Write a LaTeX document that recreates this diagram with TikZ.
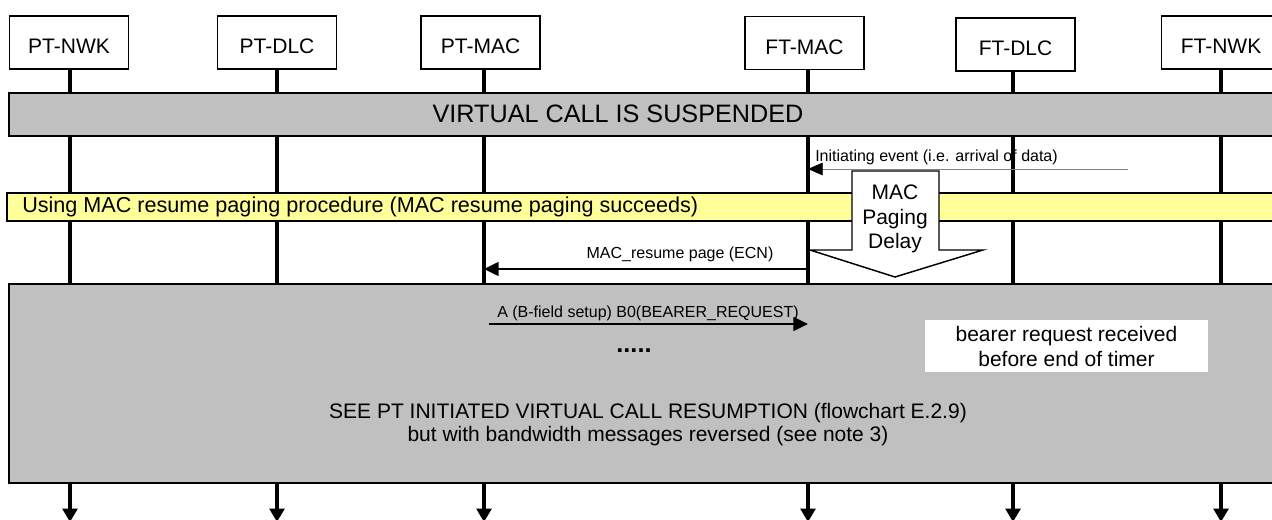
\documentclass[tikz,border=0pt]{standalone}
\usepackage{fontspec}
\setmainfont{Liberation Sans}
\usetikzlibrary{arrows.meta}
\definecolor{bandgrey}{HTML}{C0C0C0}
\definecolor{bandyellow}{HTML}{FFFF99}
\newcommand{\bigfnt}{\fontsize{15.75}{18.5}\selectfont}
\newcommand{\smallfnt}{\fontsize{12}{14}\selectfont}
\begin{document}
\begin{tikzpicture}[x=0.75pt,y=-0.75pt,
  entity/.style={draw,line width=1.1pt,fill=white,minimum width=89pt,minimum height=40pt,
    inner sep=0pt,font=\bigfnt,text height=21pt,text depth=3.8pt},
  life/.style={line width=3pt,-{Triangle[length=10pt,width=11pt]}},
  band/.style={draw,line width=1.1pt,fill=bandgrey},
  yband/.style={draw,line width=0.9pt,fill=bandyellow},
  msg/.style={line width=1.1pt,-{Triangle[length=11pt,width=10.5pt]}},
  thinmsg/.style={line width=0.6pt,draw=gray,-{Triangle[length=11pt,width=9.5pt,color=black]}},
  lbl/.style={font=\smallfnt,inner sep=0pt},
  bigtxt/.style={font=\bigfnt,inner sep=0pt,align=center}]
\useasboundingbox (0,0) rectangle (1272,520);

% entities
\node[entity] (b1) at (69,42.5) {PT-NWK};
\node[entity] (b2) at (277,42.5) {PT-DLC};
\node[entity] (b3) at (480.5,42.5) {PT-MAC};
\node[entity] (b4) at (804.5,43) {FT-MAC};
\node[entity] (b5) at (1015.5,44.5) {FT-DLC};
\node[entity] (b6) at (1221,42.5) {FT-NWK};

% lifeline ends
\coordinate (e1) at (70,522);
\coordinate (e2) at (277,522);
\coordinate (e3) at (484,522);
\coordinate (e4) at (808,522);
\coordinate (e5) at (1013,522);
\coordinate (e6) at (1221,522);

\draw[life] (b1.south -| e1) -- (e1);
\draw[life] (b2.south -| e2) -- (e2);
\draw[life] (b3.south -| e3) -- (e3);
\draw[life] (b4.south -| e4) -- (e4);
\draw[life] (b5.south -| e5) -- (e5);
\draw[life] (b6.south -| e6) -- (e6);

% suspended band
\draw[band] (9,93) rectangle (1285,136);
\node[bigtxt,font=\fontsize{18.9}{22}\selectfont] (susp) at (618,114) {VIRTUAL CALL IS SUSPENDED};

% initiating event
\coordinate (ie) at (1128,169);
\draw[thinmsg] (ie) -- (ie -| e4);
\node[lbl,anchor=west] (iel) at (815,157) {Initiating event (i.e. arrival of data)};

% yellow band
\draw[yband] (7,193) rectangle (1285,221);
\node[bigtxt,anchor=west,font=\fontsize{16.2}{19}\selectfont] (ylbl) at (22,207) {Using MAC resume paging procedure (MAC resume paging succeeds)};

% MAC paging delay block arrow
\draw[line width=1.1pt,fill=white] (852,171) -- (939,171) -- (939,250) -- (983,250) -- (895,277) -- (810,250) -- (852,250) -- cycle;
\node[bigtxt,font=\fontsize{15.75}{18.4}\selectfont] (pd) at (895,219) {MAC\\Paging\\Delay};

% MAC_resume page
\coordinate (m1) at (0,269);
\draw[msg] (e4 |- m1) -- (e3 |- m1);
\node[lbl] (m1l) at (680,254) {MAC\_resume page (ECN)};

% big resumption box
\draw[band] (9,284) rectangle (1285,483);

\coordinate (m2) at (0,324);
\draw[msg] ([xshift=3.75pt]e3 |- m2) -- (e4 |- m2);
\node[lbl] (m2l) at (648,313) {A (B-field setup) B0(BEARER\_REQUEST)};

\node[font=\fontsize{19}{22}\selectfont\bfseries,inner sep=0pt] (dots) at (634,351) {.....};

\node[fill=white,inner sep=0pt,minimum width=212pt,minimum height=39pt,align=center,
  font=\fontsize{15.75}{18.75}\selectfont] (brr) at (1066.5,346) {bearer request received\\before end of timer};

\node[bigtxt,font=\fontsize{15.75}{17.4}\selectfont] (see) at (648,424.5)
  {SEE PT INITIATED VIRTUAL CALL RESUMPTION (flowchart E.2.9)\\but with bandwidth messages reversed (see note 3)};
\end{tikzpicture}
\end{document}
